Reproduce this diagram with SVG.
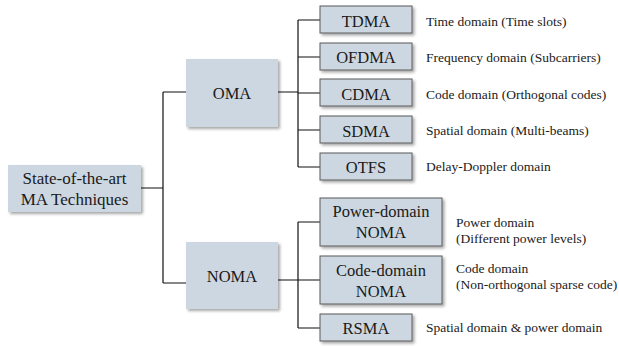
<svg xmlns="http://www.w3.org/2000/svg" width="619" height="346" viewBox="0 0 619 346">
<defs>
<filter id="sh" x="-10%" y="-10%" width="125%" height="130%">
<feGaussianBlur in="SourceAlpha" stdDeviation="1.5"/>
<feOffset dx="1.5" dy="2" result="b"/>
<feComponentTransfer><feFuncA type="linear" slope="0.35"/></feComponentTransfer>
<feMerge><feMergeNode/><feMergeNode in="SourceGraphic"/></feMerge>
</filter>
</defs>
<style>
.p{fill:#cdd7e1;filter:url(#sh)}
.c{fill:#cdd7e1;stroke:#5a5a5a;stroke-width:1;filter:url(#sh)}
.l{font-family:"Liberation Serif","Times New Roman",serif;font-size:16.5px;fill:#1a1a1a;text-anchor:middle}
.big{font-size:17px}
.d{font-family:"Liberation Serif","Times New Roman",serif;font-size:13.5px;fill:#1a1a1a}
.w{fill:none;stroke:#111;stroke-width:1.2}
</style>
<rect width="619" height="346" fill="#fff"/>
<g id="connectors">
<path class="w" d="M141 188H163M163 92V283M163 92H186M163 283H186"/>
<path class="w" d="M278 92H298M298 20V167M298 20H320M298 57H320M298 93H320M298 130H320M298 167H320"/>
<path class="w" d="M278 280H298M298 222V328M298 222H320M298 280H320M298 328H320"/>
</g>
<g id="root"><rect class="p" x="8" y="165" width="133" height="47"/><text class="l big" x="74.5" y="184">State-of-the-art</text><text class="l big" x="74.5" y="205">MA Techniques</text></g>
<g id="oma"><rect class="p" x="186" y="59" width="92" height="68"/><text class="l" x="232" y="99">OMA</text></g>
<g id="noma"><rect class="p" x="186" y="242" width="92" height="67"/><text class="l" x="232" y="282">NOMA</text></g>
<g id="tdma"><rect class="c" x="320" y="6" width="92" height="27"/><text class="l" x="366" y="26.5">TDMA</text><text class="d" x="426" y="26">Time domain (Time slots)</text></g>
<g id="ofdma"><rect class="c" x="320" y="43" width="92" height="27"/><text class="l" x="366" y="63">OFDMA</text><text class="d" x="426" y="62">Frequency domain (Subcarriers)</text></g>
<g id="cdma"><rect class="c" x="320" y="79" width="92" height="27"/><text class="l" x="366" y="99.5">CDMA</text><text class="d" x="426" y="99">Code domain (Orthogonal codes)</text></g>
<g id="sdma"><rect class="c" x="320" y="116" width="92" height="27"/><text class="l" x="366" y="136.5">SDMA</text><text class="d" x="426" y="135">Spatial domain (Multi-beams)</text></g>
<g id="otfs"><rect class="c" x="320" y="153" width="92" height="27"/><text class="l" x="366" y="173">OTFS</text><text class="d" x="426" y="171">Delay-Doppler domain</text></g>
<g id="pd-noma"><rect class="c" x="320" y="198" width="122" height="48"/><text class="l" x="381" y="217">Power-domain</text><text class="l" x="381" y="238">NOMA</text><text class="d" x="456" y="227">Power domain</text><text class="d" x="456" y="243">(Different power levels)</text></g>
<g id="cd-noma"><rect class="c" x="320" y="256" width="122" height="48"/><text class="l" x="381" y="276">Code-domain</text><text class="l" x="381" y="297">NOMA</text><text class="d" x="456" y="273">Code domain</text><text class="d" x="456" y="289">(Non-orthogonal sparse code)</text></g>
<g id="rsma"><rect class="c" x="320" y="314" width="92" height="27"/><text class="l" x="366" y="334">RSMA</text><text class="d" x="426" y="332">Spatial domain &amp; power domain</text></g>
</svg>
